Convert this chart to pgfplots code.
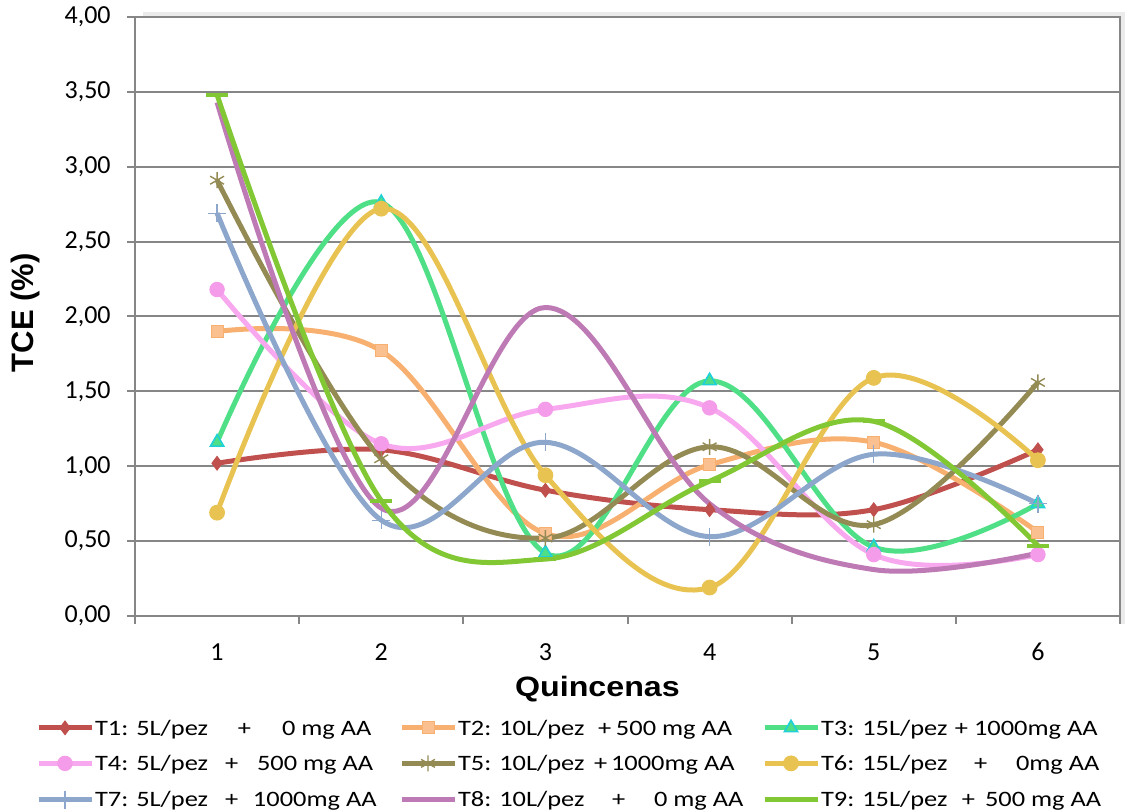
\documentclass[border=0pt]{standalone}
\usepackage{fontspec}
\setmainfont{Carlito}
\newfontfamily\legendfont[FakeStretch=1.2]{Carlito}
\newfontfamily\xlabelfont[FakeStretch=1.15]{Liberation Sans}
\newfontfamily\ylabelfont{Liberation Sans}
\usepackage{pgfplots}
\pgfplotsset{compat=1.18}

\definecolor{gridgray}{HTML}{868686}
\definecolor{cT1}{HTML}{C0504D}
\definecolor{cT2}{HTML}{F8B070}
\definecolor{cT2m}{HTML}{FAC090}
\definecolor{cT3}{HTML}{4FDF86}
\definecolor{cT3m}{HTML}{1FD0D8}
\definecolor{cT4}{HTML}{F8A8EE}
\definecolor{cT4m}{HTML}{F49BE9}
\definecolor{cT5}{HTML}{948A54}
\definecolor{cT6}{HTML}{E9C352}
\definecolor{cT7}{HTML}{8DA6CC}
\definecolor{cT8}{HTML}{BE7AB5}
\definecolor{cT9}{HTML}{82C834}

% legend text: name, "+" and dose set in fixed-width boxes
% #1 cell width, #2 name box, #3 name, #4 plus box, #5 dose
\newcommand{\lgentry}[5]{\hspace*{0.5pt}\makebox[#1pt][l]{\makebox[#2pt][l]{#3}\makebox[#4pt][l]{+}#5}}

\begin{document}
\begin{tikzpicture}
\begin{axis}[
  scale only axis,
  width=492.5pt, height=299.5pt,
  xmin=0.5, xmax=6.5, ymin=0, ymax=4,
  xtick={1,...,6},
  minor xtick={0.5,1.5,...,6.5},
  ytick={0,0.5,...,4},
  xtick pos=bottom, ytick pos=left,
  tick align=outside,
  major tick length=4pt, minor tick length=4pt,
  major x tick style={draw=none},
  tick style={gridgray, line width=1pt},
  axis line style={gridgray, line width=1pt},
  ymajorgrids,
  grid style={gridgray, line width=1pt},
  /pgf/number format/assume math mode=true,
  tick label style={font=\fontsize{13}{15}\selectfont, inner sep=0pt},
  xticklabel shift=9.5pt,
  yticklabel shift=8pt,
  yticklabel style={/pgf/number format/.cd, fixed, fixed zerofill, precision=2, use comma},
  xticklabel style={/pgf/number format/.cd, fixed, precision=0},
  xlabel={\xlabelfont\bfseries Quincenas},
  xlabel style={font=\fontsize{14}{16}\selectfont, at={(axis description cs:0.4695,0)}, anchor=base, yshift=-40.5pt, inner sep=0pt},
  ylabel={\ylabelfont\bfseries TCE (\%)},
  ylabel style={font=\fontsize{15.5}{17}\selectfont, at={(axis description cs:-0.1107,0.506)}, anchor=center, inner sep=0pt},
  every axis plot/.append style={line width=2.5pt, smooth, tension=0.6},
  legend columns=3,
  legend style={
    draw=none, fill=none,
    at={(axis description cs:-0.1005,-0.1587)}, anchor=north west,
    inner sep=0pt, outer sep=0pt,
    /tikz/column sep=0pt, /tikz/row sep=5.75pt,
    nodes={inner sep=0pt, text height=12pt, text depth=0pt, anchor=base west},
    font=\legendfont\fontsize{11}{13}\selectfont,
  },
  legend image code/.code={%
    \draw[#1, mark repeat=2, mark phase=2] plot coordinates {(0pt,3.6pt) (13.25pt,3.6pt) (26.5pt,3.6pt)};},
]

% T1
\addplot[cT1, mark=diamond*, mark size=3.4pt, mark options={solid, fill=cT1, draw=cT1, line width=0.5pt}]
  coordinates {(1,1.02) (2,1.11) (3,0.84) (4,0.71) (5,0.71) (6,1.11)};
\addlegendentry{\lgentry{152}{71.5}{T1: 5L/pez}{22}{0 mg AA}}
% T2
\addplot[cT2, mark=square*, mark size=3pt, mark options={solid, fill=cT2m, draw=cT2, line width=0.5pt}]
  coordinates {(1,1.90) (2,1.77) (3,0.55) (4,1.01) (5,1.16) (6,0.56)};
\addlegendentry{\lgentry{152}{70}{T2: 10L/pez}{9}{500 mg AA}}
% T3
\addplot[cT3, mark=triangle*, mark size=3.8pt, mark options={solid, fill=cT3, draw=cT3m, line width=0.8pt}]
  coordinates {(1,1.16) (2,2.76) (3,0.42) (4,1.57) (5,0.46) (6,0.75)};
\addlegendentry{\lgentry{146}{67}{T3: 15L/pez}{9.5}{1000mg AA}}
% T4
\addplot[cT4, mark=*, mark size=3.6pt, mark options={solid, fill=cT4m, draw=cT4m, line width=0.5pt}]
  coordinates {(1,2.18) (2,1.15) (3,1.38) (4,1.39) (5,0.41) (6,0.41)};
\addlegendentry{\lgentry{152}{65}{T4: 5L/pez}{16}{500 mg AA}}
% T5
\addplot[cT5, mark=asterisk, mark size=4pt, mark options={solid, draw=cT5, line width=0.7pt}]
  coordinates {(1,2.91) (2,1.05) (3,0.52) (4,1.13) (5,0.61) (6,1.56)};
\addlegendentry{\lgentry{152}{68}{T5: 10L/pez}{8.5}{1000mg AA}}
% T6
\addplot[cT6, mark=*, mark size=3.7pt, mark options={solid, fill=cT6, draw=cT6, line width=0.5pt}]
  coordinates {(1,0.69) (2,2.72) (3,0.94) (4,0.19) (5,1.59) (6,1.04)};
\addlegendentry{\lgentry{146}{76.5}{T6: 15L/pez}{21}{0mg AA}}
% T7
\addplot[cT7, mark=+, mark size=4.5pt, mark options={solid, draw=cT7, line width=0.6pt}]
  coordinates {(1,2.69) (2,0.64) (3,1.16) (4,0.53) (5,1.08) (6,0.75)};
\addlegendentry{\lgentry{152}{65}{T7: 5L/pez}{14}{1000mg AA}}
% T8
\addplot[cT8, no markers]
  coordinates {(1,3.43) (2,0.72) (3,2.06) (4,0.75) (5,0.31) (6,0.42)};
\addlegendentry{\lgentry{152}{77}{T8: 10L/pez}{21}{0 mg AA}}
% T9
\addplot[cT9, mark=-, mark size=5.5pt, mark options={solid, draw=cT9, line width=2pt}]
  coordinates {(1,3.48) (2,0.77) (3,0.38) (4,0.90) (5,1.30) (6,0.47)};
\addlegendentry{\lgentry{146}{70.5}{T9: 15L/pez}{11.5}{500 mg AA}}

\end{axis}
% soft shadow along the top and right edges of the plot area
\draw[black!8, line width=2pt]
  ([xshift=4pt,yshift=1.5pt]current axis.north west) --
  ([xshift=1.5pt,yshift=1.5pt]current axis.north east) --
  ([xshift=1.5pt,yshift=-4pt]current axis.south east);
% page extent around the plot area
\path (current axis.south west) +(-67.5pt,-97.5pt);
\path (current axis.north east) +(4pt,8.5pt);
\end{tikzpicture}
\end{document}
